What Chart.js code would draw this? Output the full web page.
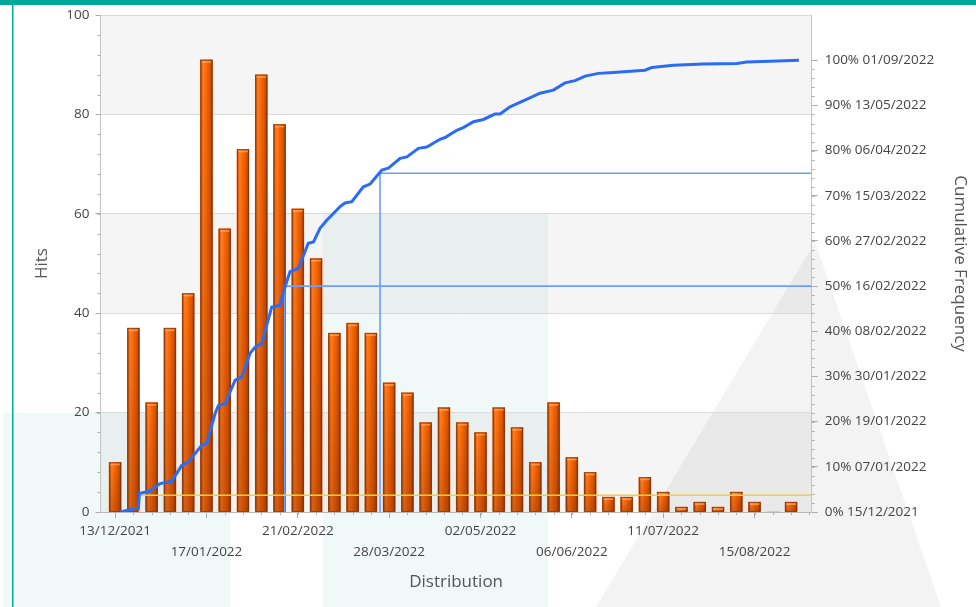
<!DOCTYPE html>
<html><head><meta charset="utf-8">
<script src="https://cdn.jsdelivr.net/npm/chart.js@4.4.1/dist/chart.umd.min.js"></script>
<style>html,body{margin:0;padding:0;background:#fff;overflow:hidden}#wrap{width:976px;height:607px;position:relative}canvas{display:block}</style>
</head><body><div id="wrap"><canvas id="c" width="976" height="607"></canvas></div>
<script>
// ---- data ----
const hits = [10,37,22,37,44,91,57,73,88,78,61,51,36,38,36,26,24,18,21,18,16,21,17,10,22,11,8,3,3,7,4,1,2,1,4,2,0,2];
const binDays = 7; // each bar is one week, day 0 = 13/12/2021
const xTickDays = [0,35,70,105,140,175,210,245];
const xTickLabels = ['13/12/2021','17/01/2022','21/02/2022','28/03/2022','02/05/2022','06/06/2022','11/07/2022','15/08/2022'];
const hitsTicks = [0,20,40,60,80,100];
const pctTicks = [0,10,20,30,40,50,60,70,80,90,100];
const pctDates = ['15/12/2021','07/01/2022','19/01/2022','30/01/2022','08/02/2022','16/02/2022','27/02/2022','15/03/2022','06/04/2022','13/05/2022','01/09/2022'];
const cumDays = [2,7.7,8.9,9.3,13.4,17.2,21.7,25.5,28.1,33.2,35.1,38.3,39.6,42.1,46.0,48.5,51.7,53.6,56.2,60.0,63.2,65.1,67.0,70.2,74.0,76.0,78.5,81.1,86.2,88.1,90.7,95.1,97.7,102.2,104.7,109.2,111.8,116.2,119.4,124.5,126.4,130.9,133.4,137.3,141.1,145.5,147.5,151.3,156.4,162.8,167.9,172.4,176.2,180.1,185.2,190.9,203.0,205.6,213.9,225.4,238.2,242.0,250.9,262];
const cumPct = [0,0.75,0.75,4.1,4.65,6.3,6.8,10.3,11.1,14.8,15.2,21.8,23.6,24.0,29.2,29.9,35.1,36.5,37.3,45.4,45.8,49.8,53.2,53.9,59.5,59.8,62.8,64.6,67.6,68.4,68.7,72.0,72.6,75.7,76.1,78.3,78.6,80.5,80.8,82.5,82.9,84.5,85.1,86.4,86.9,88.1,88.1,89.7,91.0,92.7,93.4,95.0,95.5,96.5,97.1,97.3,97.8,98.4,98.9,99.2,99.3,99.6,99.8,100];
const medianDay = 65, medianPct = 50;
const q3Day = 101.5, q3Pct = 75;
const lowDay = 9.3, lowPct = 3.7;
const xMin = -5.6, xMax = 266.9;

const FONT = "'Open Sans', 'Noto Sans', sans-serif";
const TXT = '#444444';

const backgroundPlugin = {
  id: 'bg',
  beforeDraw(chart) {
    const {ctx, chartArea: a, scales: {y}} = chart;
    ctx.save();
    // watermark shapes
    ctx.fillStyle = '#f3f3f3';
    ctx.beginPath(); ctx.moveTo(596,607); ctx.lineTo(815,242); ctx.lineTo(941,607); ctx.closePath(); ctx.fill();
    ctx.fillStyle = 'rgba(0,140,130,0.055)';
    ctx.fillRect(3, 413, 227, 194);
    ctx.fillRect(323, 213, 225, 394);
    // alternating bands
    ctx.fillStyle = 'rgba(0,0,0,0.04)';
    [[0,20],[40,60],[80,100]].forEach(([lo,hi]) => {
      const t = y.getPixelForValue(hi), b = y.getPixelForValue(lo);
      ctx.fillRect(a.left, t, a.right - a.left, b - t);
    });
    // page chrome
    ctx.fillStyle = '#00a99a';
    ctx.fillRect(0, 0, 976, 5);
    ctx.fillRect(12, 0, 1.5, 607);
    ctx.restore();
  },
  afterDraw(chart) {
    const {ctx, scales: {x, y, y2}} = chart;
    ctx.save();
    ctx.strokeStyle = '#b0b0b0'; ctx.lineWidth = 1;
    ctx.beginPath();
    for (let d = 0; d <= 266; d += binDays) { const p = Math.round(x.getPixelForValue(d)) + 0.5; ctx.moveTo(p, x.top); ctx.lineTo(p, x.top + 3); }
    for (let v = 0; v <= 100; v += 4) { const p = Math.round(y.getPixelForValue(v)) + 0.5; ctx.moveTo(y.right - 3, p); ctx.lineTo(y.right, p); }
    for (let v = 0; v <= 100; v += 2) { const p = Math.round(y2.getPixelForValue(v)) + 0.5; ctx.moveTo(y2.left, p); ctx.lineTo(y2.left + 3, p); }
    ctx.stroke();
    ctx.restore();
  },
  afterDatasetDraw(chart, args) {
    if (args.index !== 0) return;
    const {ctx, chartArea: a} = chart;
    ctx.save();
    ctx.beginPath(); ctx.rect(a.left, a.top, a.right - a.left, a.bottom - a.top); ctx.clip();
    args.meta.data.forEach(el => {
      const {x, y, base, width} = el.getProps(['x','y','base','width'], true);
      const h = base - y; if (h <= 0.5) return;
      const l = x - width / 2;
      const g = ctx.createLinearGradient(l, 0, l + width, 0);
      g.addColorStop(0, '#b84800'); g.addColorStop(0.22, '#ff7f26'); g.addColorStop(0.45, '#ff6a00');
      g.addColorStop(0.8, '#d85500'); g.addColorStop(1, '#963800');
      ctx.fillStyle = g; ctx.fillRect(l, y, width, h);
      const v = ctx.createLinearGradient(0, y, 0, base);
      v.addColorStop(0, 'rgba(90,20,0,0)'); v.addColorStop(1, 'rgba(90,25,0,0.28)');
      ctx.fillStyle = v; ctx.fillRect(l, y, width, h);
      ctx.fillStyle = 'rgba(255,185,130,0.55)'; ctx.fillRect(l + 1, y + 1, width - 2, Math.min(2, h - 1));
      ctx.strokeStyle = 'rgba(125,50,12,0.7)'; ctx.lineWidth = 1;
      ctx.strokeRect(l + 0.5, y + 0.5, width - 1, h - 0.5);
    });
    ctx.restore();
  }
};

new Chart(document.getElementById('c'), {
  type: 'bar',
  data: {
    datasets: [
      { type: 'bar', data: hits.map((h, i) => ({x: i * binDays, y: h})), xAxisID: 'x', yAxisID: 'y',
        barThickness: 12, backgroundColor: '#e05c10', borderWidth: 0, order: 10 },
      { type: 'line', data: cumDays.map((d, i) => ({x: d, y: cumPct[i]})), xAxisID: 'x', yAxisID: 'y2',
        borderColor: '#2a6cf6', borderWidth: 3, pointRadius: 0, tension: 0, order: 1 },
      { type: 'line', data: [{x: medianDay, y: 0}, {x: medianDay, y: medianPct}, {x: xMax, y: medianPct}], xAxisID: 'x', yAxisID: 'y2',
        borderColor: '#6d9dff', borderWidth: 1.6, pointRadius: 0, order: 3 },
      { type: 'line', data: [{x: q3Day, y: 0}, {x: q3Day, y: q3Pct}, {x: xMax, y: q3Pct}], xAxisID: 'x', yAxisID: 'y2',
        borderColor: '#6d9dff', borderWidth: 1.6, pointRadius: 0, order: 3 },
      { type: 'line', data: [{x: lowDay, y: 0}, {x: lowDay, y: lowPct}, {x: xMax, y: lowPct}], xAxisID: 'x', yAxisID: 'y2',
        borderColor: '#f0d040', borderWidth: 1.6, pointRadius: 0, order: 2 }
    ]
  },
  options: {
    responsive: false,
    animation: false,
    layout: { padding: { top: 15, left: 0, right: 0, bottom: 0 } },
    plugins: { legend: { display: false }, tooltip: { enabled: false } },
    scales: {
      x: {
        type: 'linear', position: 'bottom', min: xMin, max: xMax, offset: false,
        afterBuildTicks: s => { s.ticks = xTickDays.map(v => ({value: v})); },
        afterFit: s => { s.height = 95; },
        ticks: { autoSkip: false, maxRotation: 0, minRotation: 0, padding: 2, color: TXT,
          font: { family: FONT, size: 13.5, lineHeight: 1.6 },
          callback: (v, i) => i % 2 === 0 ? [xTickLabels[i]] : ['', xTickLabels[i]] },
        grid: { display: true, offset: false, drawOnChartArea: false, tickLength: 6, tickColor: '#a8a8a8' },
        border: { color: '#b8b8b8' },
        title: { display: true, text: 'Distribution', color: '#555', font: { family: FONT, size: 17 }, padding: { top: 0, bottom: 15 } }
      },
      y: {
        type: 'linear', position: 'left', min: 0, max: 100,
        afterBuildTicks: s => { s.ticks = hitsTicks.map(v => ({value: v})); },
        afterFit: s => { s.width = 100.5; },
        ticks: { padding: 6, color: TXT, font: { family: FONT, size: 13.5 } },
        grid: { color: c => (c.tick && c.tick.value > 0) ? '#dadada' : 'rgba(0,0,0,0)', tickColor: '#a8a8a8', tickLength: 5 },
        border: { color: '#c4c4c4' },
        title: { display: true, text: 'Hits', color: '#555', font: { family: FONT, size: 17 }, padding: { top: 32, bottom: 0 } }
      },
      y2: {
        type: 'linear', position: 'right', min: 0, max: 110,
        afterBuildTicks: s => { s.ticks = pctTicks.map(v => ({value: v})); },
        afterFit: s => { s.width = 164.3; },
        ticks: { padding: 7, color: TXT, font: { family: FONT, size: 13.5 },
          callback: (v, i) => v + '% ' + pctDates[i] },
        grid: { drawOnChartArea: false, tickColor: '#a8a8a8', tickLength: 6 },
        border: { color: '#c4c4c4' },
        title: { display: true, text: 'Cumulative Frequency', color: '#555', font: { family: FONT, size: 17 }, padding: { top: 6, bottom: 0 } }
      }
    }
  },
  plugins: [backgroundPlugin]
});
</script>
</body></html>
